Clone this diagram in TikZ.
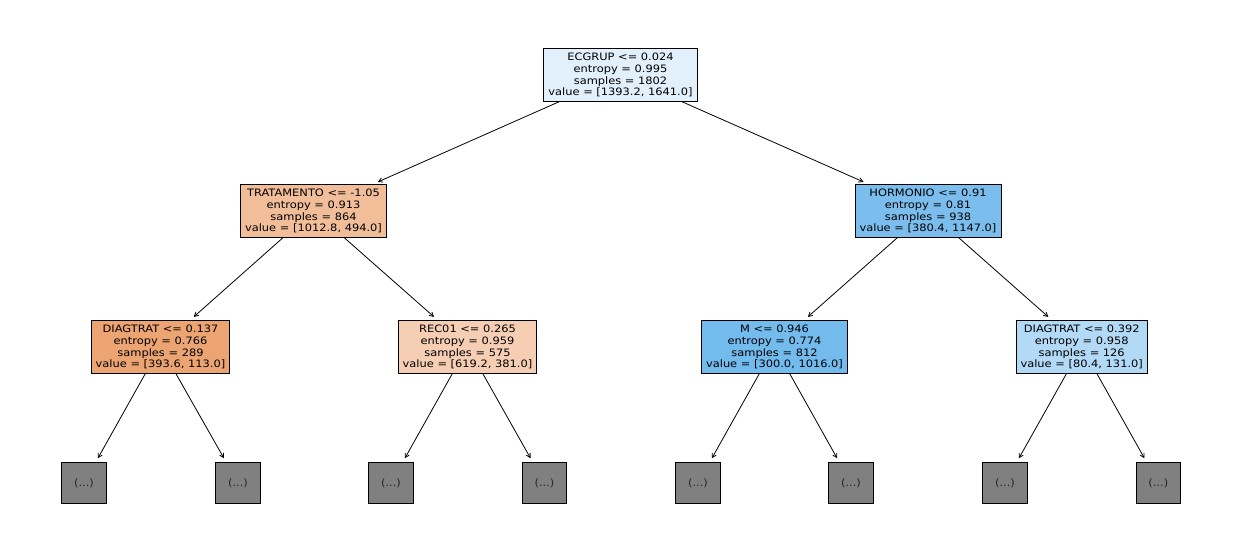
\documentclass[tikz,border=0pt]{standalone}
\usepackage{fontspec}
\setmainfont{DejaVu Sans}[FakeStretch=1.12]
\usetikzlibrary{arrows.meta}
\definecolor{cRoot}{RGB}{225,240,251}
\definecolor{cTr}{RGB}{242,190,154}
\definecolor{cDgA}{RGB}{236,165,114}
\definecolor{cRe}{RGB}{245,206,179}
\definecolor{cHo}{RGB}{123,190,238}
\definecolor{cM}{RGB}{115,186,237}
\definecolor{cDgB}{RGB}{178,217,245}
\definecolor{cLeaf}{RGB}{128,128,128}
\tikzset{
  tnode/.style={draw=black, line width=0.9pt, align=center, inner xsep=4.5pt, inner ysep=0pt,
    minimum height=53pt, text height=44pt, text depth=1.6pt,
    font=\fontsize{10.2}{11.7}\selectfont},
  leaf/.style={draw=black, line width=0.9pt, fill=cLeaf, minimum width=44.7pt, minimum height=41.7pt,
    inner sep=0pt, font=\fontsize{10.2}{11.7}\selectfont, text=black!85},
  arr/.style={-{Straight Barb[length=4pt,width=4.5pt]}, line width=0.8pt, shorten >=4pt}
}
\begin{document}
\begin{tikzpicture}[x=1pt,y=-1pt]
\useasboundingbox (0,0) rectangle (1242,558);
\node[tnode, fill=cRoot] (root) at (620.5,74.5) {ECGRUP <= 0.024\\entropy = 0.995\\samples = 1802\\value = [1393.2, 1641.0]};
\node[tnode, fill=cTr] (tr) at (313.5,210.5) {TRATAMENTO <= -1.05\\entropy = 0.913\\samples = 864\\value = [1012.8, 494.0]};
\node[tnode, fill=cHo] (ho) at (928,210.5) {HORMONIO <= 0.91\\entropy = 0.81\\samples = 938\\value = [380.4, 1147.0]};
\node[tnode, fill=cDgA] (dga) at (160.5,346.5) {DIAGTRAT <= 0.137\\entropy = 0.766\\samples = 289\\value = [393.6, 113.0]};
\node[tnode, fill=cRe] (re) at (467.5,346.5) {REC01 <= 0.265\\entropy = 0.959\\samples = 575\\value = [619.2, 381.0]};
\node[tnode, fill=cM] (m) at (774.5,346.5) {M <= 0.946\\entropy = 0.774\\samples = 812\\value = [300.0, 1016.0]};
\node[tnode, fill=cDgB] (dgb) at (1081.7,346.5) {DIAGTRAT <= 0.392\\entropy = 0.958\\samples = 126\\value = [80.4, 131.0]};
\node[leaf] (l1) at (84,483) {(...)};
\node[leaf] (l2) at (238,483) {(...)};
\node[leaf] (l3) at (391,483) {(...)};
\node[leaf] (l4) at (544.5,483) {(...)};
\node[leaf] (l5) at (698,483) {(...)};
\node[leaf] (l6) at (851,483) {(...)};
\node[leaf] (l7) at (1005,483) {(...)};
\node[leaf] (l8) at (1158.3,483) {(...)};
\draw[arr] (root) -- (tr);
\draw[arr] (root) -- (ho);
\draw[arr] (tr) -- (dga);
\draw[arr] (tr) -- (re);
\draw[arr] (ho) -- (m);
\draw[arr] (ho) -- (dgb);
\draw[arr] (dga) -- (l1);
\draw[arr] (dga) -- (l2);
\draw[arr] (re) -- (l3);
\draw[arr] (re) -- (l4);
\draw[arr] (m) -- (l5);
\draw[arr] (m) -- (l6);
\draw[arr] (dgb) -- (l7);
\draw[arr] (dgb) -- (l8);
\end{tikzpicture}
\end{document}
